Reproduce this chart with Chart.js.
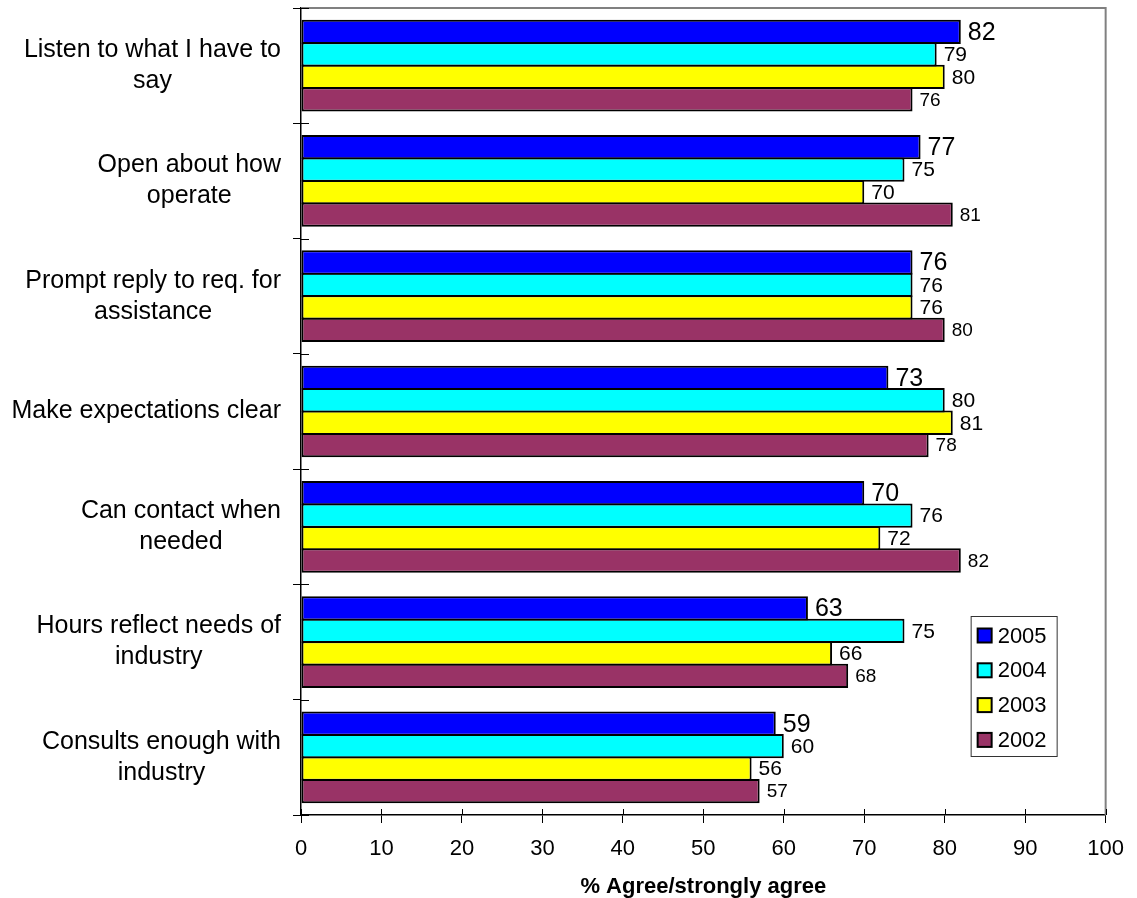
<!DOCTYPE html>
<html>
<head>
<meta charset="utf-8">
<script src="https://cdn.jsdelivr.net/npm/chart.js@4.4.0/dist/chart.umd.min.js"></script>
<style>
  html, body { margin: 0; padding: 0; background: #fff; }
  canvas { display: block; }
</style>
</head>
<body>
<canvas id="grafico" width="1137" height="898"></canvas>
<script>
// categories (top to bottom), one line per array entry
const categorias = [
    ['Listen to what I have to', 'say'],
    ['Open about how', 'operate'],
    ['Prompt reply to req. for', 'assistance'],
    ['Make expectations clear'],
    ['Can contact when', 'needed'],
    ['Hours reflect needs of', 'industry'],
    ['Consults enough with', 'industry']
];
const anos = ['2005', '2004', '2003', '2002'];
const valores2005 = [82, 77, 76, 73, 70, 63, 59];
const valores2004 = [79, 75, 76, 80, 76, 75, 60];
const valores2003 = [80, 70, 76, 81, 72, 66, 56];
const valores2002 = [76, 81, 80, 78, 82, 68, 57];
const ticksX = [0, 10, 20, 30, 40, 50, 60, 70, 80, 90, 100];
const tituloX = '% Agree/strongly agree';

const FONTE = 'Arial, "Liberation Sans", sans-serif';
const cores = ['#0000ff', '#00ffff', '#ffff00', '#993366'];
const tamanhosRotulo = [25, 21, 21, 19];

// value labels at the end of each bar
const rotulos = {
    id: 'rotulos',
    afterDatasetsDraw(chart) {
        const ctx = chart.ctx;
        ctx.save();
        ctx.fillStyle = '#000';
        ctx.textAlign = 'left';
        ctx.textBaseline = 'middle';
        chart.data.datasets.forEach((ds, i) => {
            ctx.font = tamanhosRotulo[i] + 'px ' + FONTE;
            chart.getDatasetMeta(i).data.forEach((bar, j) => {
                ctx.fillText(ds.data[j], bar.x + 7, bar.y + 1);
            });
        });
        ctx.restore();
    }
};

// category names: block right aligned, lines centred inside the block
const nomesCategorias = {
    id: 'nomesCategorias',
    afterDraw(chart) {
        const ctx = chart.ctx;
        const escalaY = chart.scales.y;
        ctx.save();
        ctx.fillStyle = '#000';
        ctx.font = '25px ' + FONTE;
        ctx.textAlign = 'center';
        ctx.textBaseline = 'middle';
        categorias.forEach((linhas, j) => {
            const yc = escalaY.getPixelForValue(j);
            const largura = Math.max(...linhas.map(l => ctx.measureText(l).width));
            const xc = chart.chartArea.left - 20 - largura / 2;
            const inicio = yc - (linhas.length - 1) * 31 / 2;
            linhas.forEach((l, k) => ctx.fillText(l, xc, inicio + k * 31));
        });
        ctx.restore();
    }
};

// grey frame on top/right, inner halves of the tick marks, legend box
const moldura = {
    id: 'moldura',
    beforeDatasetsDraw(chart) {
        const { ctx, chartArea: a } = chart;
        ctx.save();
        ctx.strokeStyle = '#808080';
        ctx.lineWidth = 2;
        ctx.beginPath();
        ctx.moveTo(a.left, a.top);
        ctx.lineTo(a.right, a.top);
        ctx.lineTo(a.right, a.bottom);
        ctx.stroke();
        ctx.restore();
    },
    afterDraw(chart) {
        const { ctx, chartArea: a } = chart;
        const escalaX = chart.scales.x;
        ctx.save();
        ctx.strokeStyle = '#000';
        ctx.lineWidth = 1;
        ctx.beginPath();
        const passo = (a.bottom - a.top) / categorias.length;
        for (let i = 0; i <= categorias.length; i++) {
            const y = Math.round(a.top + i * passo) + 0.5;
            ctx.moveTo(a.left, y);
            ctx.lineTo(a.left + 8, y);
        }
        ticksX.forEach(v => {
            const x = Math.round(escalaX.getPixelForValue(v)) + 0.5;
            ctx.moveTo(x, a.bottom);
            ctx.lineTo(x, a.bottom - 6);
        });
        ctx.stroke();

        // legend
        const lx = a.right - 135, ly = a.bottom - 199, lw = 86, lh = 140;
        ctx.fillStyle = '#fff';
        ctx.fillRect(lx, ly, lw, lh);
        ctx.strokeStyle = '#333';
        ctx.lineWidth = 1;
        ctx.strokeRect(lx + 0.5, ly + 0.5, lw, lh);
        ctx.font = '22px ' + FONTE;
        ctx.textAlign = 'left';
        ctx.textBaseline = 'middle';
        chart.data.datasets.forEach((ds, i) => {
            const yc = ly + 19.5 + i * 34.8;
            ctx.fillStyle = ds.backgroundColor;
            ctx.fillRect(lx + 7, yc - 7, 14, 14);
            ctx.strokeStyle = '#000';
            ctx.lineWidth = 2;
            ctx.strokeRect(lx + 7, yc - 7, 14, 14);
            ctx.fillStyle = '#000';
            ctx.fillText(ds.label, lx + 27, yc + 1);
        });
        ctx.restore();
    }
};

const serie = (label, data, i) => ({
    label: label,
    data: data,
    backgroundColor: cores[i],
    borderColor: '#000',
    borderWidth: 2,
    borderSkipped: false,
    categoryPercentage: 0.78,
    barPercentage: 1.08
});

const ctx = document.getElementById('grafico');

new Chart(ctx, {
    type: 'bar',
    data: {
        labels: categorias,
        datasets: [
            serie(anos[0], valores2005, 0),
            serie(anos[1], valores2004, 1),
            serie(anos[2], valores2003, 2),
            serie(anos[3], valores2002, 3)
        ]
    },
    options: {
        indexAxis: 'y',
        responsive: false,
        animation: false,
        layout: { padding: { top: 8, right: 31, left: 0, bottom: 0 } },
        plugins: {
            legend: { display: false },
            tooltip: { enabled: false }
        },
        scales: {
            x: {
                min: 0,
                max: 100,
                afterBuildTicks: s => { s.ticks = ticksX.map(v => ({ value: v })); },
                afterFit: s => { s.height = 83; },
                border: { color: '#000', width: 1.5 },
                grid: { drawOnChartArea: false, tickLength: 8, color: '#000' },
                ticks: {
                    color: '#000',
                    padding: 13,
                    font: { family: FONTE, size: 22 }
                },
                title: {
                    display: true,
                    text: tituloX,
                    color: '#000',
                    padding: 0,
                    font: { family: FONTE, size: 22, weight: 'bold', lineHeight: 1 }
                }
            },
            y: {
                afterFit: s => { s.width = 301; },
                border: { color: '#000', width: 1.5 },
                grid: { drawOnChartArea: false, tickLength: 8, color: '#000', offset: true },
                ticks: { display: false }
            }
        }
    },
    plugins: [moldura, rotulos, nomesCategorias]
});
</script>
</body>
</html>
